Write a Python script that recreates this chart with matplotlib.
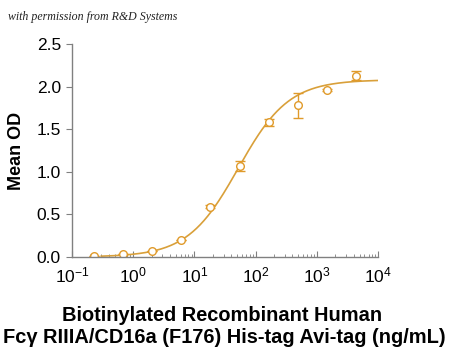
import numpy as np
import matplotlib
matplotlib.use("Agg")
import matplotlib.pyplot as plt
from matplotlib.ticker import LogLocator, FuncFormatter, NullFormatter

# concentration (ng/mL), mean OD and error
conc = [0.226, 0.68, 2.03, 6.1, 18.3, 54.9, 165, 494, 1481, 4444]
mean_od = [0.01, 0.03, 0.07, 0.20, 0.59, 1.07, 1.58, 1.78, 1.96, 2.13]
err = [0.0, 0.0, 0.0, 0.0, 0.02, 0.06, 0.04, 0.15, 0.01, 0.05]

# four-parameter logistic fit
fit_bottom = 0.0
fit_top = 2.08
fit_ec50 = 52.0
fit_hill = 1.05
fit_range = (0.3, 1e4)

color = "#E09A2A"
line_color = "#D9A03A"

plt.rcParams["font.family"] = ["Liberation Sans", "DejaVu Sans"]

fig = plt.figure(figsize=(4.5, 3.52), dpi=100)
ax = fig.add_axes([0.16, 0.27, 0.68, 0.605])

xs = np.logspace(np.log10(fit_range[0]), np.log10(fit_range[1]), 300)
ys = fit_bottom + (fit_top - fit_bottom) / (1 + (fit_ec50 / xs) ** fit_hill)
ax.plot(xs, ys, color=line_color, lw=1.2)

ax.errorbar(conc, mean_od, yerr=err, fmt="o", mfc="white", mec=color,
            ms=5.5, mew=1.0, ecolor=color, elinewidth=1.0, capsize=3.5, capthick=1.0)

ax.set_xscale("log")
ax.set_xlim(0.1, 1e4)
ax.set_ylim(0, 2.5)
ax.set_yticks([0, 0.5, 1.0, 1.5, 2.0, 2.5])
ax.set_yticklabels(["0.0", "0.5", "1.0", "1.5", "2.0", "2.5"])

ax.xaxis.set_major_locator(LogLocator(base=10, numticks=10))
ax.xaxis.set_minor_locator(LogLocator(base=10, subs=np.arange(2, 10), numticks=10))
ax.xaxis.set_minor_formatter(NullFormatter())
ax.xaxis.set_major_formatter(FuncFormatter(lambda v, p: r"$\mathregular{10^{%d}}$" % round(np.log10(v))))

for s in ["top", "right"]:
    ax.spines[s].set_visible(False)
for s in ["left", "bottom"]:
    ax.spines[s].set_color("#808080")
    ax.spines[s].set_linewidth(1.0)

ax.tick_params(axis="y", direction="out", length=4, color="#808080", labelsize=12.5, pad=4)
ax.tick_params(axis="x", which="major", direction="in", length=4, color="#808080", labelsize=12.5, pad=6)
ax.tick_params(axis="x", which="minor", direction="in", length=2.5, color="#808080")

ax.set_ylabel("Mean OD", fontsize=13, fontweight="bold", labelpad=8)
fig.text(0.493, 0.105, "Biotinylated Recombinant Human", ha="center", va="center",
         fontsize=14.4, fontweight="bold")
fig.text(0.499, 0.042, "Fcγ RIIIA/CD16a (F176) His-tag Avi-tag (ng/mL)", ha="center",
         va="center", fontsize=14.4, fontweight="bold")
fig.text(0.018, 0.952, "with permission from R&D Systems", ha="left", va="center",
         fontsize=8.6, style="italic", family="Liberation Serif", color="#222222")

fig.savefig("out.png", dpi=100)
